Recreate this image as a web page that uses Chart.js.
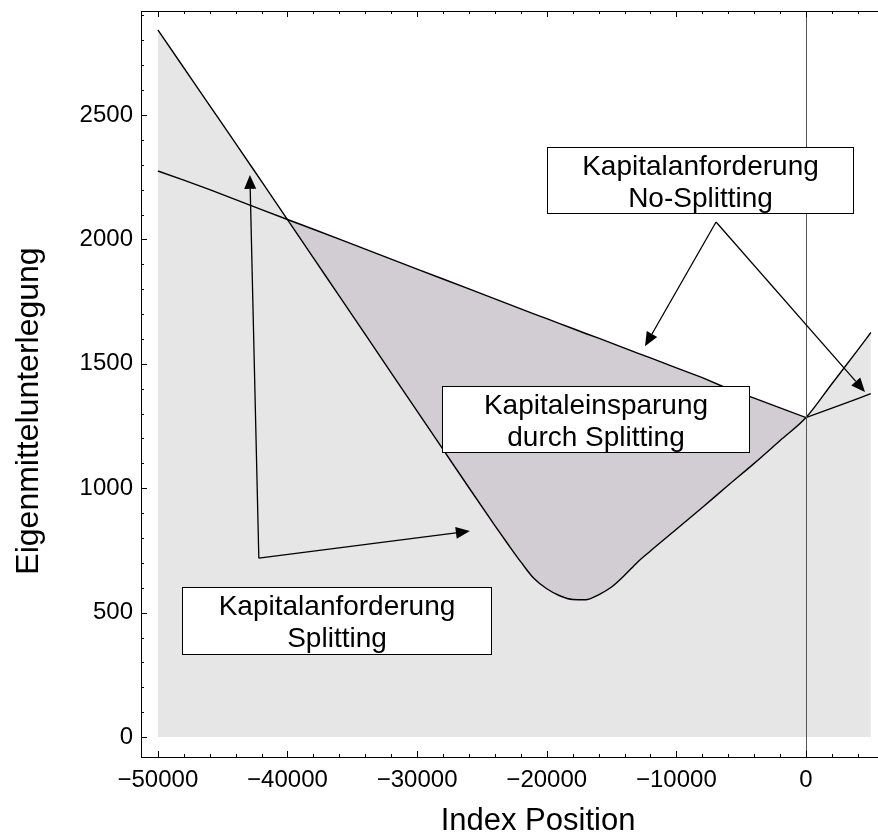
<!DOCTYPE html>
<html>
<head>
<meta charset="utf-8">
<script src="https://cdn.jsdelivr.net/npm/chart.js@4.4.1/dist/chart.umd.min.js"></script>
<style>
  body { margin: 0; background: #fff; overflow: hidden; }
  #wrap { width: 878px; height: 838px; overflow: hidden; }
</style>
</head>
<body>
<div id="wrap"><canvas id="kapital" width="935" height="838"></canvas></div>
<script>
// ************** data ****************************************
const xPos = [-50000, -48000, -46000, -44000, -42000, -40000, -38000, -36000, -34000, -32000,
    -30000, -28000, -26000, -24000, -23000, -22000, -21000, -20000, -19000, -18000,
    -17000, -16000, -15000, -14000, -13000, -12000, -10000, -8000, -6000, -4000,
    -2000, 0, 2000, 4000, 5000];
const splitting = [2842, 2690, 2538, 2386, 2233, 2080, 1926, 1772, 1618, 1464,
    1310, 1156, 1002, 850, 776, 704, 638, 596, 568, 553,
    552, 572, 603, 650, 703, 748, 835, 923, 1012, 1100,
    1192, 1284, 1420, 1556, 1626];
const noSplitting = [2275, 2238, 2200, 2160, 2120, 2080, 2041, 2001, 1961, 1921,
    1881, 1841, 1801, 1761, 1741, 1721, 1701, 1682, 1662, 1642,
    1622, 1603, 1583, 1563, 1543, 1524, 1484, 1445, 1400, 1362,
    1323, 1284, 1322, 1360, 1380];
const xTickLabels = [-50000, -40000, -30000, -20000, -10000, 0];
const yTickLabels = [0, 500, 1000, 1500, 2000, 2500];

// ************** annotations (data coordinates) *******************
const boxes = [
    { x1: -19985, x2: 3627, y1: 2371, y2: 2106, lines: ["Kapitalanforderung", "No-Splitting"] },
    { x1: -28086, x2: -4398, y1: 1411, y2: 1145, lines: ["Kapitaleinsparung", "durch Splitting"] },
    { x1: -48148, x2: -24306, y1: 603, y2: 334, lines: ["Kapitalanforderung", "Splitting"] }
];
const arrows = [
    { from: [-42210, 719], to: [-42900, 2259] },
    { from: [-42210, 719], to: [-25930, 828] },
    { from: [-6940, 2070], to: [-12420, 1571] },
    { from: [-6940, 2070], to: [4550, 1387] }
];

const FONT = "'Liberation Sans', Arial, sans-serif";

function toPoints(ys) {
    return xPos.map(function (x, i) { return { x: x, y: ys[i] }; });
}

function minus(v) {
    return v < 0 ? "\u2212" + Math.abs(v) : String(v);
}

// ************** frame, inward ticks, zero line, boxes, arrows, titles *******************
const framePlugin = {
    id: "framePlugin",
    afterDatasetsDraw: function (chart) {
        const c = chart.ctx;
        const a = chart.chartArea;
        const xs = chart.scales.x;
        const ys = chart.scales.y;
        c.save();

        // vertical line at x = 0
        c.strokeStyle = "#555";
        c.lineWidth = 1;
        const zx = Math.round(xs.getPixelForValue(0)) + 0.5;
        c.beginPath();
        c.moveTo(zx, a.top);
        c.lineTo(zx, a.bottom);
        c.stroke();

        // frame
        c.strokeStyle = "#000";
        c.strokeRect(Math.round(a.left) + 0.5, Math.round(a.top) + 0.5,
            Math.round(a.right - a.left), Math.round(a.bottom - a.top));

        // ticks pointing inwards
        c.beginPath();
        for (let v = -50000; v <= 10000; v += 2000) {
            const px = Math.round(xs.getPixelForValue(v)) + 0.5;
            const len = v % 10000 === 0 ? 6 : 3;
            c.moveTo(px, a.bottom);
            c.lineTo(px, a.bottom - len);
            c.moveTo(px, a.top);
            c.lineTo(px, a.top + len);
        }
        for (let v = 0; v <= 2900; v += 100) {
            const py = Math.round(ys.getPixelForValue(v)) + 0.5;
            const len = v % 500 === 0 ? 6 : 3;
            c.moveTo(a.left, py);
            c.lineTo(a.left + len, py);
            c.moveTo(a.right, py);
            c.lineTo(a.right - len, py);
        }
        c.stroke();
        c.restore();
    },
    afterDraw: function (chart) {
        const c = chart.ctx;
        const a = chart.chartArea;
        const xs = chart.scales.x;
        const ys = chart.scales.y;
        c.save();

        // arrows
        c.strokeStyle = "#000";
        c.fillStyle = "#000";
        c.lineWidth = 1.3;
        arrows.forEach(function (ar) {
            const x0 = xs.getPixelForValue(ar.from[0]);
            const y0 = ys.getPixelForValue(ar.from[1]);
            const x1 = xs.getPixelForValue(ar.to[0]);
            const y1 = ys.getPixelForValue(ar.to[1]);
            const ang = Math.atan2(y1 - y0, x1 - x0);
            const hl = 14, hw = 6;
            const bx = x1 - hl * Math.cos(ang);
            const by = y1 - hl * Math.sin(ang);
            c.beginPath();
            c.moveTo(x0, y0);
            c.lineTo(bx, by);
            c.stroke();
            c.beginPath();
            c.moveTo(x1, y1);
            c.lineTo(bx + hw * Math.sin(ang), by - hw * Math.cos(ang));
            c.lineTo(bx - hw * Math.sin(ang), by + hw * Math.cos(ang));
            c.closePath();
            c.fill();
        });

        // text boxes
        c.font = "28px " + FONT;
        c.textAlign = "center";
        c.textBaseline = "alphabetic";
        c.lineWidth = 1;
        boxes.forEach(function (b) {
            const l = Math.round(xs.getPixelForValue(b.x1)) + 0.5;
            const r = Math.round(xs.getPixelForValue(b.x2)) + 0.5;
            const t = Math.round(ys.getPixelForValue(b.y1)) + 0.5;
            const btm = Math.round(ys.getPixelForValue(b.y2)) + 0.5;
            c.fillStyle = "#fff";
            c.fillRect(l, t, r - l, btm - t);
            c.strokeStyle = "#000";
            c.strokeRect(l, t, r - l, btm - t);
            c.fillStyle = "#000";
            const cx = (l + r) / 2;
            c.fillText(b.lines[0], cx, t + 27);
            c.fillText(b.lines[1], cx, t + 59);
        });

        // axis titles
        c.font = "31px " + FONT;
        c.fillText("Index Position", (a.left + a.right) / 2, 830);
        c.translate(38, 411);
        c.rotate(-Math.PI / 2);
        c.font = "32px " + FONT;
        c.fillText("Eigenmittelunterlegung", 0, 0);
        c.restore();
    }
};

// ************** chart *******************
new Chart(document.getElementById("kapital"), {
    type: "line",
    data: {
        datasets: [{
            label: "Kapitalanforderung Splitting",
            data: toPoints(splitting),
            borderColor: "#000",
            borderWidth: 1.4,
            backgroundColor: "#e6e6e6",
            fill: "origin",
            pointRadius: 0,
            cubicInterpolationMode: "monotone"
        }, {
            label: "Kapitalanforderung No-Splitting",
            data: toPoints(noSplitting),
            borderColor: "#000",
            borderWidth: 1.4,
            fill: { target: 0, above: "#d2cdd2", below: "rgba(0,0,0,0)" },
            pointRadius: 0,
            tension: 0
        }]
    },
    options: {
        responsive: false,
        animation: false,
        devicePixelRatio: 1,
        layout: { padding: { top: 0, left: 0, right: 0, bottom: 0 } },
        plugins: {
            legend: { display: false },
            tooltip: { enabled: false },
            filler: { drawTime: "beforeDatasetsDraw" }
        },
        scales: {
            x: {
                type: "linear",
                min: -51300,
                max: 9950,
                grid: { display: false, drawTicks: false },
                border: { display: false },
                afterBuildTicks: function (s) { s.ticks = xTickLabels.map(function (v) { return { value: v }; }); },
                afterFit: function (s) { s.height = 81; },
                ticks: {
                    autoSkip: false,
                    maxRotation: 0,
                    padding: 9,
                    color: "#000",
                    font: { family: FONT, size: 24 },
                    callback: minus
                }
            },
            y: {
                type: "linear",
                min: -80,
                max: 2918,
                grid: { display: false, drawTicks: false },
                border: { display: false },
                afterBuildTicks: function (s) { s.ticks = yTickLabels.map(function (v) { return { value: v }; }); },
                afterFit: function (s) { s.width = 141; s.paddingTop = 11; },
                ticks: {
                    autoSkip: false,
                    padding: 8,
                    color: "#000",
                    font: { family: FONT, size: 24 },
                    callback: minus
                }
            }
        }
    },
    plugins: [framePlugin]
});
</script>
</body>
</html>
